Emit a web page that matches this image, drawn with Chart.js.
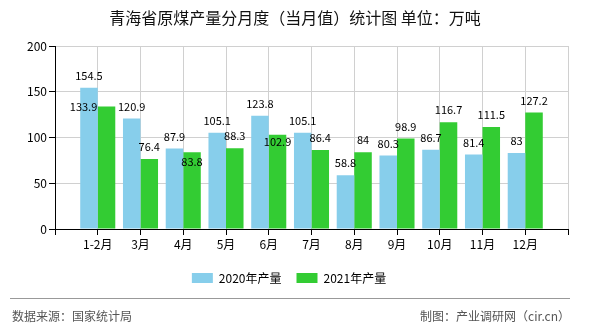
<!DOCTYPE html>
<html>
<head>
<meta charset="utf-8">
<script src="https://cdn.jsdelivr.net/npm/chart.js@4/dist/chart.umd.min.js"></script>
<style>
  html, body { margin: 0; padding: 0; background: #fff; }
  #wrap { width: 590px; height: 330px; }
</style>
</head>
<body>
<div id="wrap"><canvas id="coalChart"></canvas></div>
<script>
// values (万吨)
let months = ['1-2月', '3月', '4月', '5月', '6月', '7月', '8月', '9月', '10月', '11月', '12月'];
let output2020 = [154.5, 120.9, 87.9, 105.1, 123.8, 105.1, 58.8, 80.3, 86.7, 81.4, 83];
let output2021 = [133.9, 76.4, 83.8, 88.3, 102.9, 86.4, 84, 98.9, 116.7, 111.5, 127.2];
let yTicks = [0, 50, 100, 150, 200];

let titleText = '青海省原煤产量分月度（当月值）统计图 单位：万吨';
let sourceText = '数据来源：国家统计局';
let makerText = '制图：产业调研网（cir.cn）';

let cjk = "'Noto Sans CJK SC', 'Noto Sans', sans-serif";

// the axis has an empty slot on each side of the months
let labels = [''].concat(months, ['']);
let pad = function (arr) { return [null].concat(arr, [null]); };

// a few value labels are moved off their default spot so they don't collide
let labelNudge = {
    '1-1': [-23, 12],
    '1-3': [0, 21],
    '1-5': [0, 19]
};

let valueLabels = {
    id: 'valueLabels',
    afterDatasetsDraw(chart) {
        let ctx = chart.ctx;
        ctx.save();
        ctx.font = '11px ' + cjk;
        ctx.fillStyle = '#000';
        ctx.textAlign = 'center';
        ctx.textBaseline = 'middle';
        chart.data.datasets.forEach(function (ds, di) {
            let meta = chart.getDatasetMeta(di);
            meta.data.forEach(function (bar, i) {
                let v = ds.data[i];
                if (v === null) return;
                let n = labelNudge[di + '-' + i] || [0, 0];
                ctx.fillText(String(v), bar.x + n[0], bar.y - 12 + n[1]);
            });
        });
        ctx.restore();
    }
};

let titleAndFooter = {
    id: 'titleAndFooter',
    afterDraw(chart) {
        let ctx = chart.ctx;
        let w = chart.width;
        ctx.save();
        ctx.fillStyle = '#111';
        ctx.font = '16px ' + cjk;
        ctx.textAlign = 'center';
        ctx.textBaseline = 'middle';
        ctx.fillText(titleText, w / 2, 18);

        ctx.strokeStyle = '#999';
        ctx.lineWidth = 1;
        ctx.beginPath();
        ctx.moveTo(10, 298.5);
        ctx.lineTo(570, 298.5);
        ctx.stroke();

        ctx.fillStyle = '#555';
        ctx.font = '12px ' + cjk;
        ctx.textAlign = 'left';
        ctx.fillText(sourceText, 12, 316);
        ctx.textAlign = 'right';
        ctx.fillText(makerText, 570, 316);
        ctx.restore();
    }
};

let coalChart = document.querySelector('#coalChart').getContext('2d');

let coal_Chart = new Chart(coalChart, {
    type: 'bar',
    data: {
        labels: labels,
        datasets: [{
            label: '2020年产量',
            data: pad(output2020),
            backgroundColor: '#87CEEB'
        }, {
            label: '2021年产量',
            data: pad(output2021),
            backgroundColor: '#33CC33'
        }]
    },
    options: {
        responsive: true,
        maintainAspectRatio: false,
        animation: false,
        layout: { padding: { left: 10, right: 22, top: 46, bottom: 36 } },
        datasets: {
            bar: { categoryPercentage: 0.82, barPercentage: 1 }
        },
        scales: {
            x: {
                offset: false,
                grid: { offset: false, color: '#d0d0d0', tickColor: '#000', tickLength: 6 },
                border: { color: '#000', width: 1 },
                ticks: { color: '#000', font: { family: cjk, size: 12 }, padding: 2, maxRotation: 0, autoSkip: false },
                afterFit(scale) { scale.height = 28; }
            },
            y: {
                min: yTicks[0],
                max: yTicks[yTicks.length - 1],
                grid: { color: '#d0d0d0', tickColor: '#000', tickLength: 6 },
                border: { color: '#000', width: 1 },
                ticks: { color: '#000', font: { family: cjk, size: 12 }, stepSize: yTicks[1] - yTicks[0], padding: 2 },
                afterFit(scale) { scale.width = 45; }
            }
        },
        plugins: {
            legend: {
                position: 'bottom',
                labels: {
                    boxWidth: 21,
                    boxHeight: 10,
                    padding: 15,
                    color: '#000',
                    font: { family: cjk, size: 12 }
                }
            },
            tooltip: { enabled: false }
        }
    },
    plugins: [valueLabels, titleAndFooter]
});
</script>
</body>
</html>
